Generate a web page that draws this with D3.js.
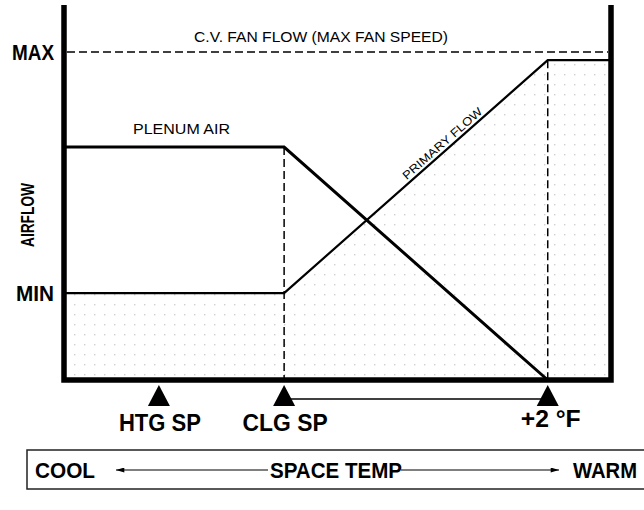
<!DOCTYPE html>
<html>
<head>
<meta charset="utf-8">
<script src="https://cdn.jsdelivr.net/npm/d3@7"></script>
<style>
  body { margin: 0; background: #fff; }
  svg { display: block; font-family: "Liberation Sans", Arial, Helvetica, sans-serif; }
</style>
</head>
<body>
<svg width="644" height="510"></svg>
<script>
// space temp, in degF relative to the cooling setpoint
var tempDomain = [-1.67, 2.48];
var setpoints = [
  {label: "HTG SP", t: -0.95},
  {label: "CLG SP", t: 0},
  {label: "+2 \u00b0F", t: 2}
];
// airflow, % of max fan flow
var flowTicks = [{label: "MAX", v: 100}, {label: "MIN", v: 26.5}];
var primaryFlow = [
  {t: -1.67, v: 26.5}, {t: 0, v: 26.5}, {t: 2, v: 97.5}, {t: 2.48, v: 97.5}
];
var plenumAir = [
  {t: -1.67, v: 71}, {t: 0, v: 71}, {t: 2, v: 0}
];
var dropLines = [{t: 0, v: 71}, {t: 2, v: 97.5}];

var svg = d3.select("svg");

var x = d3.scaleLinear().domain(tempDomain).range([64, 611]);
var y = d3.scaleLinear().domain([0, 100]).range([380, 52]);

// narrow helvetica look: squeeze text to the widths seen in the drawing
function fit(sel, len) {
  return sel.attr("textLength", len).attr("lengthAdjust", "spacingAndGlyphs");
}

var defs = svg.append("defs");
var pat = defs.append("pattern")
    .attr("id", "dots")
    .attr("patternUnits", "userSpaceOnUse")
    .attr("width", 10).attr("height", 10);
pat.append("rect").attr("x", 4).attr("y", 4).attr("width", 1.4).attr("height", 1.4).attr("fill", "#cfcfcf");

defs.append("marker")
    .attr("id", "arrow")
    .attr("viewBox", "0 0 10 6")
    .attr("refX", 10).attr("refY", 3)
    .attr("markerWidth", 14).attr("markerHeight", 5)
    .attr("markerUnits", "userSpaceOnUse")
    .attr("orient", "auto")
  .append("path")
    .attr("d", "M0,0L10,3L0,6Z")
    .attr("fill", "#000");

// dotted area under primary flow
var area = d3.area()
    .x(function(d) { return x(d.t); })
    .y0(y(0))
    .y1(function(d) { return y(d.v); });

svg.append("path")
    .datum(primaryFlow)
    .attr("d", area)
    .attr("fill", "url(#dots)");

// max fan flow dashed line
svg.append("line")
    .attr("x1", x(tempDomain[0]) + 3).attr("x2", x(tempDomain[1]) - 3)
    .attr("y1", y(100)).attr("y2", y(100))
    .attr("stroke", "#000").attr("stroke-width", 1.6)
    .attr("stroke-dasharray", "8,4");

fit(svg.append("text")
    .attr("x", 194).attr("y", y(100) - 10)
    .attr("font-size", 15)
    .text("C.V. FAN FLOW (MAX FAN SPEED)"), 254);

// vertical dashed drop lines
svg.selectAll(".drop")
    .data(dropLines)
  .enter().append("line")
    .attr("class", "drop")
    .attr("x1", function(d) { return x(d.t); })
    .attr("x2", function(d) { return x(d.t); })
    .attr("y1", function(d) { return y(d.v); })
    .attr("y2", y(0))
    .attr("stroke", "#000").attr("stroke-width", 1.5)
    .attr("stroke-dasharray", "8,4");

var line = d3.line()
    .x(function(d) { return x(d.t); })
    .y(function(d) { return y(d.v); });

svg.append("path")
    .datum(primaryFlow)
    .attr("d", line)
    .attr("fill", "none").attr("stroke", "#000").attr("stroke-width", 2.2);

svg.append("path")
    .datum(plenumAir)
    .attr("d", line)
    .attr("fill", "none").attr("stroke", "#000").attr("stroke-width", 3);

fit(svg.append("text")
    .attr("x", 133).attr("y", y(71) - 13)
    .attr("font-size", 14)
    .text("PLENUM AIR"), 97);

var ang = Math.atan2(y(97.5) - y(26.5), x(2) - x(0)) * 180 / Math.PI;
fit(svg.append("text")
    .attr("transform", "translate(" + x(1.22) + "," + (y(70) - 4) + ") rotate(" + ang + ")")
    .attr("text-anchor", "middle")
    .attr("font-size", 11.5)
    .text("PRIMARY FLOW"), 102);

// frame: left, bottom, right
svg.append("path")
    .attr("d", "M" + x(tempDomain[0]) + "," + 5 + "V" + y(0) + "H" + x(tempDomain[1]) + "V" + 5)
    .attr("fill", "none").attr("stroke", "#000").attr("stroke-width", 5.5)
    .attr("stroke-linejoin", "miter");

// y labels
svg.selectAll(".ylab")
    .data(flowTicks)
  .enter().append("text")
    .attr("class", "ylab")
    .attr("x", 54).attr("y", function(d) { return y(d.v) + 8; })
    .attr("text-anchor", "end")
    .attr("font-size", 22).attr("font-weight", "bold")
    .attr("textLength", function(d) { return d.label === "MAX" ? 42 : 38; })
    .attr("lengthAdjust", "spacingAndGlyphs")
    .text(function(d) { return d.label; });

fit(svg.append("text")
    .attr("transform", "translate(34,215) rotate(-90)")
    .attr("text-anchor", "middle")
    .attr("font-size", 19).attr("font-weight", "bold")
    .text("AIRFLOW"), 64);

// setpoint markers
svg.selectAll(".tri")
    .data(setpoints)
  .enter().append("path")
    .attr("class", "tri")
    .attr("d", function(d) {
      var cx = x(d.t);
      return "M" + cx + ",385L" + (cx + 11) + ",406L" + (cx - 11) + ",406Z";
    })
    .attr("fill", "#000");

svg.append("line")
    .attr("x1", x(0)).attr("x2", x(2))
    .attr("y1", 399).attr("y2", 399)
    .attr("stroke", "#000").attr("stroke-width", 1.5);

var spLen = [82, 85, 60];
svg.selectAll(".splab")
    .data(setpoints)
  .enter().append("text")
    .attr("class", "splab")
    .attr("x", function(d) { return x(d.t) + (d.t === 2 ? 3 : 1); })
    .attr("y", function(d) { return d.t === 2 ? 427 : 431; })
    .attr("text-anchor", "middle")
    .attr("font-size", 23).attr("font-weight", "bold")
    .attr("textLength", function(d, i) { return spLen[i]; })
    .attr("lengthAdjust", "spacingAndGlyphs")
    .text(function(d) { return d.label; });

// space temp legend box
svg.append("rect")
    .attr("x", 27).attr("y", 450).attr("width", 640).attr("height", 39)
    .attr("fill", "none").attr("stroke", "#222").attr("stroke-width", 1.5);

fit(svg.append("text").attr("x", 35).attr("y", 478)
    .attr("font-size", 22).attr("font-weight", "bold").text("COOL"), 60);
fit(svg.append("text").attr("x", 270).attr("y", 478)
    .attr("font-size", 22).attr("font-weight", "bold").text("SPACE TEMP"), 132);
fit(svg.append("text").attr("x", 573).attr("y", 478)
    .attr("font-size", 22).attr("font-weight", "bold").text("WARM"), 64);

svg.append("line")
    .attr("x1", 268).attr("x2", 116).attr("y1", 470).attr("y2", 470)
    .attr("stroke", "#000").attr("stroke-width", 1.2)
    .attr("marker-end", "url(#arrow)");
svg.append("line")
    .attr("x1", 401).attr("x2", 559).attr("y1", 470).attr("y2", 470)
    .attr("stroke", "#000").attr("stroke-width", 1.2)
    .attr("marker-end", "url(#arrow)");
</script>
</body>
</html>
